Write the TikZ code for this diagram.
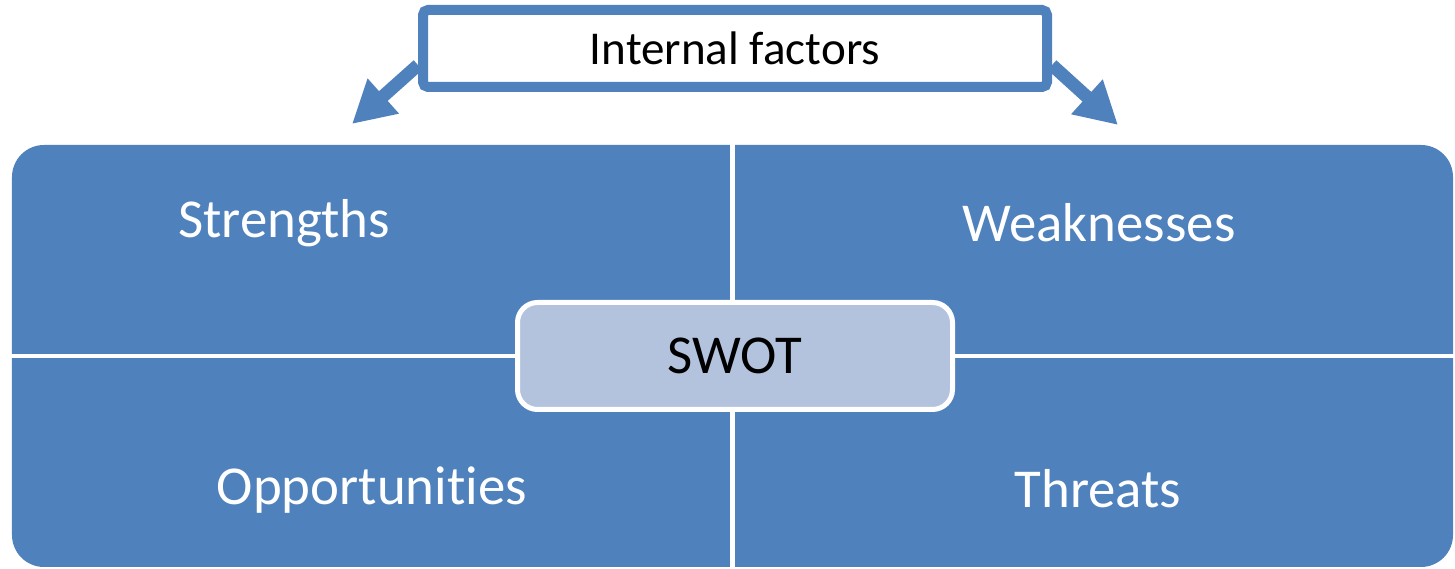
\documentclass[tikz,border=0pt]{standalone}
\usepackage{fontspec}
\setmainfont{Carlito}[Ligatures=NoCommon]
\usetikzlibrary{arrows.meta}
\definecolor{swotblau}{HTML}{4F81BD}
\definecolor{swothell}{HTML}{B3C3DE}

\begin{document}
\begin{tikzpicture}[
    feld/.style={text=white, font=\fontsize{15.6}{18}\selectfont},
    pfeil/.style={swotblau, line width=0.13cm, -{Triangle[length=0.42cm, width=0.44cm]}}
]
    \useasboundingbox (0,0) rectangle (14.55,5.69);

    % Grosse blaue Flaeche mit weissen Trennlinien
    \node[fill=swotblau, rounded corners=0.32cm, inner sep=0pt,
          minimum width=14.41cm, minimum height=4.22cm] (flaeche) at (7.325,2.13) {};
    \draw[white, line width=0.05cm] (flaeche.north) -- (flaeche.south);
    \draw[white, line width=0.04cm] (flaeche.west) -- (flaeche.east);

    % Die vier Felder
    \node[feld] (s) at (2.84,3.46) {Strengths};
    \node[feld] (w) at (10.99,3.46) {Weaknesses};
    \node[feld] (o) at (3.72,0.79) {Opportunities};
    \node[feld] (t) at (10.98,0.8) {Threats};

    % Kasten in der Mitte
    \node[draw=white, line width=0.05cm, fill=swothell, rounded corners=0.2cm,
          minimum width=4.35cm, minimum height=1.07cm,
          font=\fontsize{15.6}{18}\selectfont] (swot) at (7.35,2.13) {SWOT};

    % Oberer Kasten mit zwei Pfeilen
    \coordinate (links) at (3.52,4.45);
    \coordinate (rechts) at (11.18,4.44);
    \node[draw=swotblau, line width=0.1cm, fill=white, rounded corners=0.05cm,
          minimum width=6.24cm, minimum height=0.77cm,
          font=\fontsize{13.4}{16}\selectfont] (intern) at (7.35,5.205) {Internal factors};
    \draw[pfeil] (intern.183.6) -- (links);
    \draw[pfeil] (intern.-3.6) -- (rechts);
\end{tikzpicture}
\end{document}
